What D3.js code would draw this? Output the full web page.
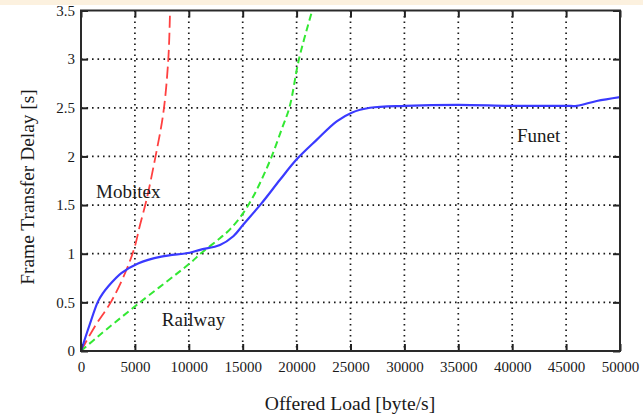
<!DOCTYPE html>
<html>
<head>
    <title>Frame Transfer Delay</title>
    <script src="https://d3js.org/d3.v7.min.js"></script>
    <style>
        body { margin: 0; background: #fff; }
        .grid line { stroke: #1a1a1a; stroke-width: 1.7; stroke-dasharray: 1.6,3.9; }
        .axis path { display: none; }
        .axis line { stroke: #222; stroke-width: 2; }
    </style>
</head>
<body>
    <svg width="643" height="417"></svg>

    <script>
        // Values (offered load in byte/s, delay in s)
        const xTicks = [0, 5000, 10000, 15000, 20000, 25000, 30000, 35000, 40000, 45000, 50000];
        const yTicks = [0, 0.5, 1, 1.5, 2, 2.5, 3, 3.5];

        const funetLoad  = [0, 800, 1580, 2040, 2500, 3740, 5290, 7450, 10080, 11040, 12890, 14130, 15060, 16760, 18460, 20010, 21860, 23720, 25110, 26810, 30060, 35000, 40000, 45050, 46000, 47840, 50000];
        const funetDelay = [0, 0.27, 0.51, 0.594, 0.66, 0.80, 0.90, 0.97, 1.01, 1.04, 1.09, 1.18, 1.30, 1.52, 1.76, 1.97, 2.17, 2.36, 2.45, 2.50, 2.52, 2.53, 2.52, 2.52, 2.52, 2.57, 2.61];

        const mobitexLoad  = [0, 1270, 2810, 4200, 4980, 5440, 6090, 6860, 7640, 8100, 8260];
        const mobitexDelay = [0, 0.25, 0.51, 0.83, 1.07, 1.28, 1.56, 1.97, 2.45, 3.0, 3.5];

        const railwayLoad  = [0, 1580, 5130, 10080, 11200, 12890, 13820, 15060, 15990, 16910, 17690, 18620, 19350, 20220, 21450];
        const railwayDelay = [0, 0.15, 0.47, 0.90, 1.01, 1.16, 1.25, 1.42, 1.59, 1.80, 2.0, 2.28, 2.51, 3.0, 3.5];

        const serif = "'Liberation Serif', 'Times New Roman', serif";
        const ink = "#1a1a1a";

        const svg = d3.select("svg");
        const plotLeft = 81, plotRight = 620, plotTop = 10.5, plotBottom = 351;

        const x = d3.scaleLinear().domain([0, 50000]).range([plotLeft, plotRight]);
        const y = d3.scaleLinear().domain([0, 3.5]).range([plotBottom, plotTop]);

        // dotted grid
        const grid = svg.append("g").attr("class", "grid");
        grid.selectAll("line.v")
            .data(xTicks.slice(1, -1))
            .enter().append("line")
            .attr("class", "v")
            .attr("x1", d => x(d)).attr("x2", d => x(d))
            .attr("y1", plotTop).attr("y2", plotBottom);
        grid.selectAll("line.h")
            .data(yTicks.slice(1, -1))
            .enter().append("line")
            .attr("class", "h")
            .attr("x1", plotLeft).attr("x2", plotRight)
            .attr("y1", d => y(d)).attr("y2", d => y(d));

        // curves
        const series = [
            { load: mobitexLoad, delay: mobitexDelay, color: "#ff4040", dash: "12,5", width: 1.8 },
            { load: railwayLoad, delay: railwayDelay, color: "#33e833", dash: "7,4", width: 2 },
            { load: funetLoad, delay: funetDelay, color: "#3a3aff", dash: null, width: 2.2 }
        ];

        svg.append("clipPath").attr("id", "plot")
            .append("rect")
            .attr("x", plotLeft).attr("y", plotTop)
            .attr("width", plotRight - plotLeft).attr("height", plotBottom - plotTop);

        const line = d3.line()
            .x(d => x(d[0]))
            .y(d => y(d[1]))
            .curve(d3.curveCatmullRom.alpha(0.5));

        svg.append("g")
            .attr("clip-path", "url(#plot)")
            .selectAll("path")
            .data(series)
            .enter().append("path")
            .attr("d", s => line(s.load.map((v, i) => [v, s.delay[i]])))
            .attr("fill", "none")
            .attr("stroke", s => s.color)
            .attr("stroke-width", s => s.width)
            .attr("stroke-dasharray", s => s.dash)
            .attr("stroke-linejoin", "round");

        // axes with inward ticks on all four sides
        const styleAxis = g => g.attr("font-family", serif).attr("font-size", 15)
            .selectAll("text").attr("fill", ink);

        svg.append("g").attr("class", "axis")
            .attr("transform", `translate(0,${plotBottom})`)
            .call(d3.axisBottom(x).tickValues(xTicks).tickSizeInner(-7).tickSizeOuter(0).tickPadding(10).tickFormat(d3.format("d")))
            .call(styleAxis);
        svg.append("g").attr("class", "axis")
            .attr("transform", `translate(${plotLeft},0)`)
            .call(d3.axisLeft(y).tickValues(yTicks).tickSizeInner(-7).tickSizeOuter(0).tickPadding(6).tickFormat(d => d))
            .call(styleAxis);
        svg.append("g").attr("class", "axis")
            .attr("transform", `translate(0,${plotTop})`)
            .call(d3.axisTop(x).tickValues(xTicks).tickSizeInner(-7).tickSizeOuter(0).tickFormat(""));
        svg.append("g").attr("class", "axis")
            .attr("transform", `translate(${plotRight},0)`)
            .call(d3.axisRight(y).tickValues(yTicks).tickSizeInner(-7).tickSizeOuter(0).tickFormat(""));

        // frame
        svg.append("rect")
            .attr("x", plotLeft).attr("y", plotTop)
            .attr("width", plotRight - plotLeft).attr("height", plotBottom - plotTop)
            .attr("fill", "none")
            .attr("stroke", "#2a2a2a")
            .attr("stroke-width", 2);

        // curve names
        const annotations = [
            { text: "Mobitex", load: 1400, delay: 1.575 },
            { text: "Railway", load: 7500, delay: 0.257 },
            { text: "Funet", load: 40450, delay: 2.15 }
        ];
        svg.selectAll("text.note")
            .data(annotations)
            .enter().append("text")
            .attr("class", "note")
            .attr("x", d => x(d.load))
            .attr("y", d => y(d.delay))
            .attr("font-family", serif)
            .attr("font-size", 19)
            .attr("fill", ink)
            .text(d => d.text);

        // axis titles
        svg.append("text")
            .attr("x", (plotLeft + plotRight) / 2 - 0.5)
            .attr("y", 410)
            .attr("text-anchor", "middle")
            .attr("font-family", serif)
            .attr("font-size", 19.6)
            .attr("fill", ink)
            .text("Offered Load [byte/s]");

        svg.append("text")
            .attr("transform", "translate(34,187) rotate(-90)")
            .attr("text-anchor", "middle")
            .attr("font-family", serif)
            .attr("font-size", 19.4)
            .attr("fill", ink)
            .text("Frame Transfer Delay [s]");

        // beige strip along the top edge
        svg.append("rect")
            .attr("x", 0).attr("y", 0)
            .attr("width", 643).attr("height", 5)
            .attr("fill", "#fcf1df");
    </script>
</body>
</html>
